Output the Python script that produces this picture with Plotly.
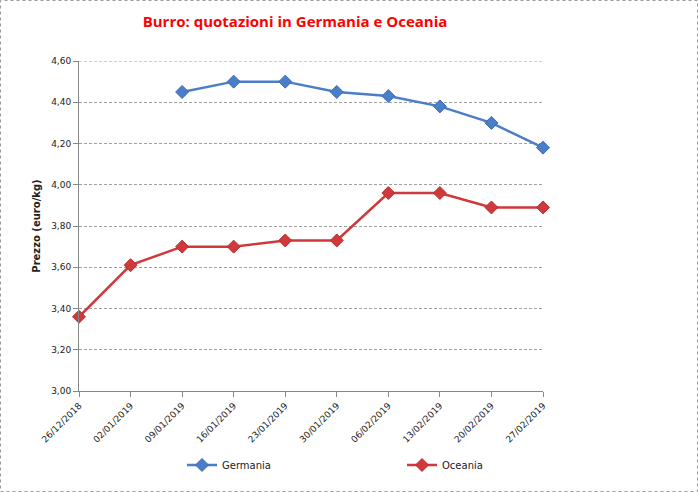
import plotly.graph_objects as go

dates = ["26/12/2018", "02/01/2019", "09/01/2019", "16/01/2019", "23/01/2019",
         "30/01/2019", "06/02/2019", "13/02/2019", "20/02/2019", "27/02/2019"]
germania = [None, None, 4.45, 4.50, 4.50, 4.45, 4.43, 4.38, 4.30, 4.18]
oceania = [3.36, 3.61, 3.70, 3.70, 3.73, 3.73, 3.96, 3.96, 3.89, 3.89]

W, H = 698, 492
L, R, T, B = 79, 155, 61, 101
pw, ph = W - L - R, H - T - B

fig = go.Figure()
fig.add_trace(go.Scatter(x=dates, y=germania, name="Germania", mode="lines+markers",
                         line=dict(color="#4A7EC8", width=2.5),
                         marker=dict(symbol="diamond", size=10, color="#4A7EC8",
                                     line=dict(color="#3C6DB5", width=1)),
                         cliponaxis=False, legend="legend"))
fig.add_trace(go.Scatter(x=dates, y=oceania, name="Oceania", mode="lines+markers",
                         line=dict(color="#D0393B", width=2.5),
                         marker=dict(symbol="diamond", size=10, color="#D0393B",
                                     line=dict(color="#B83032", width=1)),
                         cliponaxis=False, legend="legend2"))

leg_y = -(465 - (T + ph)) / ph
leg_common = dict(orientation="h", xanchor="left", yanchor="middle", y=leg_y,
                  font=dict(family="DejaVu Sans", size=10, color="#222"),
                  bgcolor="rgba(0,0,0,0)")

fig.update_layout(
    width=W, height=H,
    margin=dict(l=L, r=R, t=T, b=B, autoexpand=False),
    paper_bgcolor="white", plot_bgcolor="white",
    separators=",.",
    font=dict(family="DejaVu Sans", size=9, color="#222"),
    title=dict(text="<b>Burro: quotazioni in Germania e Oceania</b>",
               font=dict(family="Open Sans", size=15, color="#FF0000"),
               x=295 / W, xanchor="center", y=1 - 22 / H, yanchor="middle"),
    showlegend=True,
    legend=dict(x=(182 - L) / pw, **leg_common),
    legend2=dict(x=(402 - L) / pw, **leg_common),
    xaxis=dict(type="category", range=[0, len(dates) - 1], automargin=False,
               showgrid=False, showline=True, linecolor="#888", linewidth=1,
               ticks="outside", ticklen=5, tickcolor="#888",
               tickangle=-45, tickfont=dict(size=9)),
    yaxis=dict(range=[3.0, 4.6], dtick=0.2, tickformat=".2f", automargin=False,
               showgrid=True, gridcolor="#A0A0A0", griddash="3px,2px", gridwidth=1,
               showline=True, linecolor="#888", linewidth=1,
               ticks="outside", ticklen=5, tickcolor="#888",
               zeroline=False,
               title=dict(text="<b>Prezzo (euro/kg)</b>", font=dict(size=10), standoff=8),
               tickfont=dict(size=9)),
    shapes=[dict(type="rect", xref="paper", yref="paper",
                 x0=-(L - 0.5) / pw, x1=(W - 0.5 - L) / pw,
                 y0=-(B - 0.5) / ph, y1=(H - 0.5 - B) / ph,
                 line=dict(color="#999", width=1, dash="dot")),
            dict(type="line", xref="paper", yref="y", x0=0, x1=1, y0=4.6, y1=4.6,
                 line=dict(color="#A0A0A0", width=1, dash="3px,2px"), layer="below")],
)

fig.write_html("out.html")
